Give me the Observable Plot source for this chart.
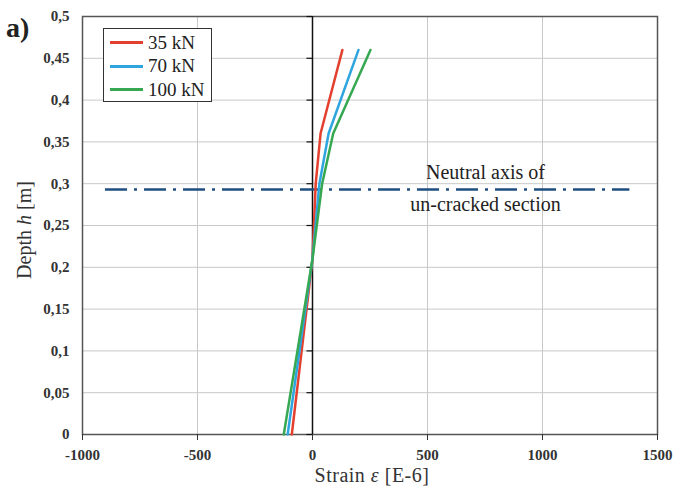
<!DOCTYPE html>
<html>
<head>
<meta charset="utf-8">
<script src="https://cdn.jsdelivr.net/npm/d3@7"></script>
<script src="https://cdn.jsdelivr.net/npm/@observablehq/plot@0.6"></script>
<style>
  body { margin: 0; background: #fff; }
  #wrap { position: relative; width: 675px; height: 490px; font-family: "Liberation Serif", "DejaVu Serif", serif; }
  #legend { position: absolute; left: 103px; top: 28px; width: 109px; height: 74px; border: 1.5px solid #333; background: #fff; box-sizing: border-box; padding: 2px 0 0 6px; }
  #legend .row { display: flex; align-items: center; height: 23.5px; font-size: 19px; color: #222; }
  #legend .sw { width: 33px; height: 3px; margin-right: 5px; }
  #tag { position: absolute; left: 6px; top: 12px; font-size: 28px; font-weight: bold; color: #222; }
</style>
</head>
<body>
<div id="wrap"></div>
<script>
const series = ["35 kN", "70 kN", "100 kN"];
const colors = ["#e3402f", "#2ea5de", "#36a852"];
const depth = [0, 0.21, 0.3, 0.36, 0.46];
const strain35 = [-90, 0, 14, 35, 130];
const strain70 = [-108, 0, 30, 70, 200];
const strain100 = [-125, 0, 42, 90, 252];
const xTicks = [-1000, -500, 0, 500, 1000, 1500];
const yTicks = [0, 0.05, 0.1, 0.15, 0.2, 0.25, 0.3, 0.35, 0.4, 0.45, 0.5];
const neutralDepth = 0.293;
const neutralFrom = -900, neutralTo = 1380;
const noteX = 752;
const noteLines = ["Neutral axis of", "un-cracked section"];
const noteY = [0.313, 0.275];

const strains = [strain35, strain70, strain100];
const data = [];
series.forEach((s, i) => depth.forEach((d, j) => data.push({series: s, depth: d, strain: strains[i][j]})));

const fmt = d => String(d).replace(".", ",");
const serif = "Liberation Serif, DejaVu Serif, serif";

const plot = Plot.plot({
  width: 675,
  height: 490,
  marginLeft: 82,
  marginRight: 18,
  marginTop: 16,
  marginBottom: 56,
  style: {fontFamily: serif, fontSize: "15px", color: "#222", background: "#fff"},
  x: {domain: [-1000, 1500], label: null},
  y: {domain: [0, 0.5], label: null},
  color: {domain: series, range: colors},
  marks: [
    Plot.gridX(xTicks, {stroke: "#c8c8c8", strokeOpacity: 1}),
    Plot.gridY(yTicks, {stroke: "#c8c8c8", strokeOpacity: 1}),
    Plot.frame({stroke: "#555", strokeWidth: 1.5}),
    Plot.ruleX([0], {stroke: "#111", strokeWidth: 1.5}),
    Plot.ruleY(yTicks, {x1: -24, x2: 0, stroke: "#111", strokeWidth: 1.2}),
    Plot.axisX(xTicks, {tickSize: 6, tickPadding: 9, stroke: "#333", fontWeight: "bold", fontSize: 15, fill: "#333", tickFormat: d => String(d)}),
    Plot.axisY(yTicks, {tickSize: 0, tickPadding: 13, fontWeight: "bold", fontSize: 15, fill: "#333", tickFormat: fmt}),
    Plot.ruleY([neutralDepth], {x1: neutralFrom, x2: neutralTo, stroke: "#1f4e80", strokeWidth: 2.5, strokeDasharray: "22,7,3,7"}),
    Plot.text(noteLines, {x: noteX, y: (d, i) => noteY[i], text: d => d, fontSize: 20, fill: "#222", fontFamily: serif}),
    Plot.line(data, {x: "strain", y: "depth", z: "series", stroke: "series", strokeWidth: 2.5, curve: "linear"})
  ]
});

const wrap = document.getElementById("wrap");
wrap.appendChild(plot);

const svg = d3.select(plot);
const yl = svg.append("text")
  .attr("transform", "translate(31,230) rotate(-90)")
  .attr("text-anchor", "middle")
  .attr("font-family", serif).attr("font-size", 20).attr("fill", "#333");
yl.append("tspan").text("Depth ");
yl.append("tspan").attr("font-style", "italic").text("h");
yl.append("tspan").text(" [m]");

const xl = svg.append("text")
  .attr("x", 372).attr("y", 482)
  .attr("text-anchor", "middle")
  .attr("letter-spacing", 0.5)
  .attr("font-family", serif).attr("font-size", 20).attr("fill", "#333");
xl.append("tspan").text("Strain ");
xl.append("tspan").attr("font-style", "italic").text("ε");
xl.append("tspan").text(" [E-6]");

const tag = document.createElement("div");
tag.id = "tag"; tag.textContent = "a)";
wrap.appendChild(tag);

const legend = document.createElement("div");
legend.id = "legend";
series.forEach((s, i) => {
  const row = document.createElement("div");
  row.className = "row";
  const sw = document.createElement("div");
  sw.className = "sw"; sw.style.background = colors[i];
  const lab = document.createElement("span");
  lab.textContent = s;
  row.appendChild(sw); row.appendChild(lab);
  legend.appendChild(row);
});
wrap.appendChild(legend);
</script>
</body>
</html>
